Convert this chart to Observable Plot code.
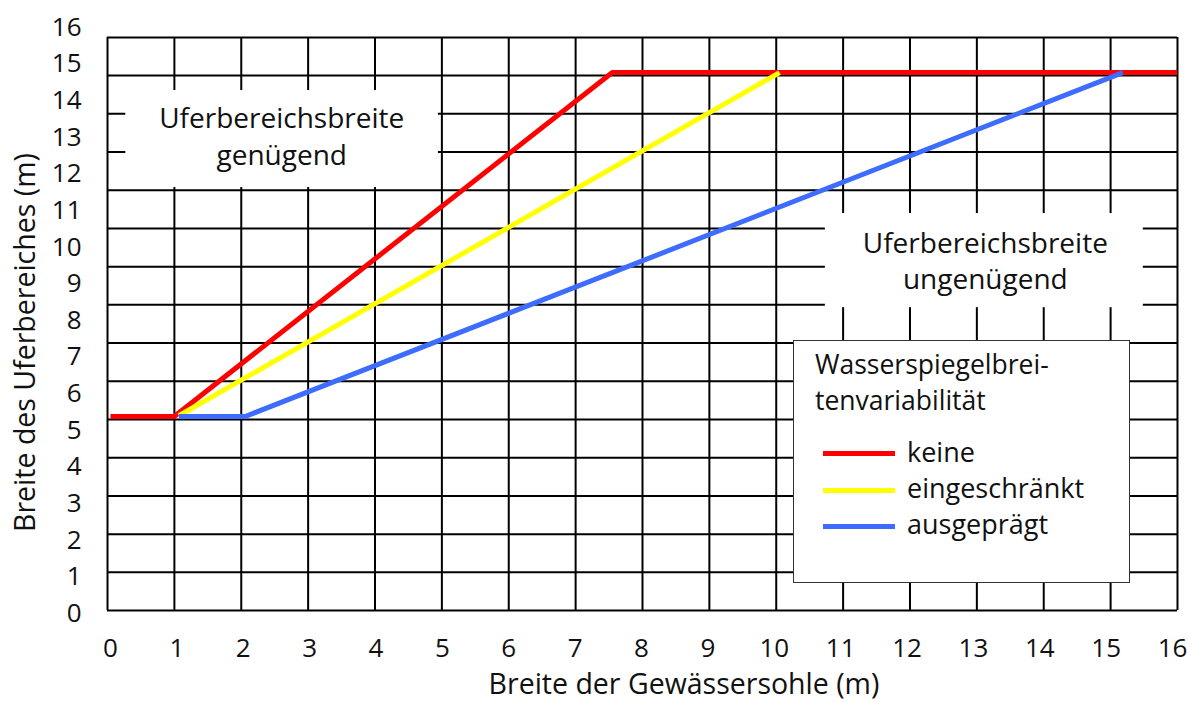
<!DOCTYPE html>
<html>
<head>
<meta charset="utf-8">
<script src="https://cdn.jsdelivr.net/npm/d3@7"></script>
<script src="https://cdn.jsdelivr.net/npm/@observablehq/plot@0.6"></script>
<style>
  html, body { margin: 0; padding: 0; background: #fff; }
  #wrap { position: relative; width: 1189px; height: 702px; font-family: "Open Sans", sans-serif; color: #111; }
  #legend { position: absolute; left: 793px; top: 340px; width: 337px; height: 243px; box-sizing: border-box;
            border: 1.5px solid #333; background: #fff; }
  #legend .t { position: absolute; left: 21px; top: 5px; font-size: 26.5px; line-height: 36.3px; white-space: nowrap; }
  #legend .sw { position: absolute; left: 29px; width: 72px; height: 5px; }
  #legend .lb { position: absolute; left: 113px; font-size: 27px; line-height: 1; white-space: nowrap; }
</style>
</head>
<body>
<div id="wrap"></div>
<script>
// ---- data ----
const xTicks = d3.range(0, 17);
const yTicks = d3.range(0, 17);
const seriesNames = ["keine", "eingeschränkt", "ausgeprägt"];
const seriesColors = ["#ff0000", "#ffff00", "#3d6cff"];
const keineX = [0, 0.96, 7.56, 16.07];
const keineY = [5.38, 5.38, 14.77, 14.77];
const eingeschraenktX = [1.03, 10.08];
const eingeschraenktY = [5.4, 14.77];
const ausgepraegtX = [1.03, 2.03, 15.25];
const ausgepraegtY = [5.38, 5.38, 14.77];
const xTitle = "Breite der Gewässersohle (m)";
const yTitle = "Breite des Uferbereiches (m)";
const annotations = ["Uferbereichsbreite\ngenügend", "Uferbereichsbreite\nungenügend"];
const legendTitle = ["Wasserspiegelbrei-", "tenvariabilität"];

// the drawn grid: 16 columns and 15 rows inside the frame (not aligned with tick labels)
const frameX = [-0.045, 16.075];
const frameY = [0.08, 15.73];
const gridX = d3.range(17).map(k => frameX[0] + k * (frameX[1] - frameX[0]) / 16);
const gridY = d3.range(16).map(k => frameY[0] + k * (frameY[1] - frameY[0]) / 15);

const rows = [];
[[keineX, keineY], [eingeschraenktX, eingeschraenktY], [ausgepraegtX, ausgepraegtY]].forEach(([xs, ys], i) => {
  xs.forEach((x, j) => rows.push({series: seriesNames[i], x, y: ys[j]}));
});

const font = "'Open Sans', sans-serif";

const chart = Plot.plot({
  width: 1189,
  height: 702,
  marginLeft: 107,
  marginRight: 12,
  marginTop: 37,
  marginBottom: 92,
  style: {fontFamily: font, fontSize: "26px", color: "#111", background: "#fff"},
  x: {domain: [0, 16], range: [110, 1172]},
  y: {domain: [0, 16], range: [613, 27]},
  color: {domain: seriesNames, range: seriesColors},
  marks: [
    Plot.ruleX(gridX, {y1: frameY[0], y2: frameY[1], stroke: "#000", strokeWidth: 2}),
    Plot.ruleY(gridY, {x1: frameX[0], x2: frameX[1], stroke: "#000", strokeWidth: 2}),
    // white boxes behind the annotations
    Plot.rect([0], {x1: 0.23, x2: 4.94, y1: 11.63, y2: 14.28, fill: "#fff"}),
    Plot.rect([0], {x1: 10.77, x2: 15.56, y1: 8.35, y2: 10.92, fill: "#fff"}),
    Plot.text([annotations[0]], {x: 2.58, y: 13.08, fontSize: 28, lineHeight: 1.34, fill: "#111"}),
    Plot.text([annotations[1]], {x: 13.18, y: 9.67, fontSize: 28, lineHeight: 1.29, fill: "#111"}),
    Plot.line(rows, {x: "x", y: "y", z: "series", stroke: "series", strokeWidth: 5, strokeLinejoin: "miter", strokeLinecap: "butt"}),
    Plot.axisX({ticks: xTicks, tickSize: 0, tickPadding: 28, label: null, fontSize: 26}),
    Plot.axisY({ticks: yTicks, tickSize: 0, tickPadding: 26, label: null, fontSize: 26}),
    Plot.text([xTitle], {frameAnchor: "bottom", textAnchor: "middle", lineAnchor: "middle", dx: 41.5, dy: 74, fontSize: 28.5, fill: "#111"}),
    Plot.text([yTitle], {frameAnchor: "left", textAnchor: "middle", lineAnchor: "middle", rotate: -90, dx: -82, dy: 18.5, fontSize: 28.5, fill: "#111"})
  ]
});

const wrap = document.getElementById("wrap");
wrap.appendChild(chart);

// legend (HTML, over the chart)
const leg = document.createElement("div");
leg.id = "legend";
const title = document.createElement("div");
title.className = "t";
legendTitle.forEach((t, i) => {
  if (i > 0) title.appendChild(document.createElement("br"));
  title.appendChild(document.createTextNode(t));
});
leg.appendChild(title);
seriesNames.forEach((s, i) => {
  const sw = document.createElement("div");
  sw.className = "sw";
  sw.style.top = (110 + i * 36.5) + "px";
  sw.style.background = seriesColors[i];
  leg.appendChild(sw);
  const lb = document.createElement("div");
  lb.className = "lb";
  lb.style.top = (97 + i * 36) + "px";
  lb.textContent = s;
  leg.appendChild(lb);
});
wrap.appendChild(leg);
</script>
</body>
</html>
